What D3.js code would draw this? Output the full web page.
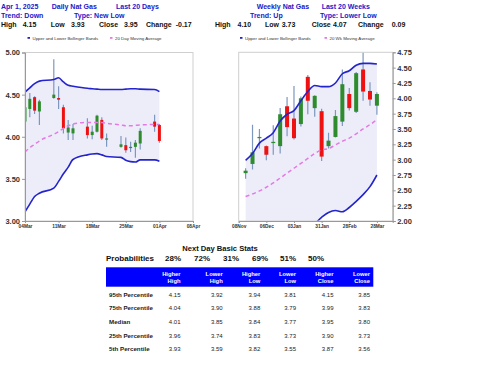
<!DOCTYPE html>
<html><head><meta charset="utf-8">
<script src="https://cdn.jsdelivr.net/npm/d3@7/dist/d3.min.js"></script>
<style>body{margin:0;background:#fff}svg{display:block;font-family:"Liberation Sans",Arial,sans-serif}</style>
</head><body><svg id="c" width="480" height="371"></svg>
<script>
// ---------- DATA ----------
const dailyDates = ["2025-03-04","2025-03-05","2025-03-06","2025-03-07","2025-03-10","2025-03-11","2025-03-12","2025-03-13","2025-03-14","2025-03-17","2025-03-18","2025-03-19","2025-03-20","2025-03-21","2025-03-24","2025-03-25","2025-03-26","2025-03-27","2025-03-28","2025-03-31","2025-04-01"];
const dailyOpen  = [4.18,4.33,4.47,4.30,4.46,4.46,4.35,4.05,4.04,4.12,4.02,4.06,4.20,3.97,3.88,3.90,3.87,3.88,3.92,4.18,4.14];
const dailyHigh  = [4.37,4.52,4.48,4.44,4.92,4.60,4.38,4.20,4.15,4.22,4.13,4.26,4.23,4.04,4.01,3.99,3.94,3.96,4.10,4.26,4.15];
const dailyLow   = [4.14,4.23,4.27,4.14,4.45,4.33,4.04,3.96,3.96,3.98,3.97,4.05,3.96,3.88,3.87,3.81,3.82,3.75,3.85,4.06,3.93];
const dailyClose = [4.35,4.45,4.31,4.42,4.50,4.44,4.10,4.11,4.10,4.02,4.06,4.25,3.98,3.98,3.91,3.84,3.88,3.93,4.07,4.12,3.95];
const dailyUpper = [4.53,4.58,4.63,4.66,4.68,4.70,4.65,4.61,4.60,4.575,4.57,4.565,4.56,4.56,4.56,4.565,4.57,4.57,4.565,4.56,4.535];
const dailyLower = [3.11,3.20,3.29,3.33,3.39,3.47,3.56,3.64,3.73,3.785,3.795,3.80,3.785,3.765,3.755,3.72,3.705,3.70,3.725,3.725,3.71];
const dailyMA    = [3.82,3.87,3.91,3.95,4.03,4.06,4.10,4.13,4.15,4.17,4.17,4.17,4.17,4.16,4.14,4.13,4.13,4.135,4.14,4.145,4.145];
const dailyTicks = ["2025-03-04","2025-03-11","2025-03-18","2025-03-25","2025-04-01","2025-04-08"];
const dailyYTicks = [3.00,3.50,4.00,4.50,5.00];

const weeklyDates = ["2024-11-15","2024-11-22","2024-11-29","2024-12-06","2024-12-13","2024-12-20","2024-12-27","2025-01-03","2025-01-10","2025-01-17","2025-01-24","2025-01-31","2025-02-07","2025-02-14","2025-02-21","2025-02-28","2025-03-07","2025-03-14","2025-03-21","2025-03-28"];
const weeklyOpen  = [2.78,2.93,3.35,3.22,3.27,3.22,3.87,3.67,3.58,4.35,3.84,3.79,3.22,3.37,3.62,4.07,3.78,4.47,4.12,3.88];
const weeklyHigh  = [2.86,3.57,3.50,3.23,3.56,3.84,4.02,4.20,4.03,4.38,4.05,3.83,3.44,3.81,4.47,4.17,4.43,4.92,4.26,4.10];
const weeklyLow   = [2.69,2.84,3.18,2.99,3.08,3.10,3.38,3.33,3.54,3.74,3.70,2.98,3.18,3.36,3.55,3.80,3.76,3.96,3.88,3.73];
const weeklyClose = [2.82,3.12,3.37,3.08,3.29,3.74,3.53,3.35,4.00,3.96,4.04,3.05,3.31,3.71,4.23,3.84,4.41,4.11,3.98,4.07];
const weeklyUpper = [2.99,3.10,3.27,3.35,3.44,3.63,3.74,3.80,3.96,4.11,4.21,4.19,4.19,4.25,4.40,4.45,4.54,4.57,4.57,4.56];
const weeklyLower = [1.80,1.78,1.71,1.75,1.80,1.77,1.82,1.88,1.90,1.92,1.96,2.06,2.14,2.17,2.15,2.22,2.32,2.43,2.56,2.75];
const weeklyMA    = [2.40,2.44,2.49,2.55,2.62,2.70,2.78,2.86,2.94,3.02,3.10,3.16,3.18,3.24,3.30,3.35,3.42,3.50,3.57,3.65];
const weeklyTicks = ["2024-11-08","2024-12-06","2025-01-03","2025-01-31","2025-02-28","2025-03-28"];
const weeklyYTicks = [2.00,2.25,2.50,2.75,3.00,3.25,3.50,3.75,4.00,4.25,4.50,4.75];

const probLabels = ["28%","72%","31%","69%","51%","50%"];
const colHeads = [["Higher","High"],["Lower","High"],["Higher","Low"],["Lower","Low"],["Higher","Close"],["Lower","Close"]];
const rowLabels = ["95th Percentile","75th Percentile","Median","25th Percentile","5th Percentile"];
const tableValues = [
  ["4.15","3.92","3.94","3.81","4.15","3.85"],
  ["4.04","3.90","3.88","3.79","3.99","3.83"],
  ["4.01","3.85","3.84","3.77","3.95","3.80"],
  ["3.96","3.74","3.83","3.73","3.90","3.73"],
  ["3.93","3.59","3.82","3.55","3.87","3.56"]];

// ---------- DRAW ----------
const svg = d3.select("#c");
const parse = d3.utcParse("%Y-%m-%d");
const fmtTick = d3.utcFormat("%d%b");
const BLUE="#2020c8", GREEN="#2e8b2e", RED="#ee1111", WICK="#7d97bf", BAND="#2424cc", MA="#e47ae4", FILL="#ededfa";

function build(dates,o,h,l,c,up,lo,ma){
  return dates.map((d,i)=>({date:parse(d),o:o[i],h:h[i],l:l[i],c:c[i],up:up[i],lo:lo[i],ma:ma[i]}));
}

function chart(cfg){
  const {data,x0,x1,y0,y1,xDom,yDom,ticks,yTicks,axisRight,bodyW,id,legendX,legendText2,legendX2} = cfg;
  const x = d3.scaleUtc().domain(xDom.map(parse)).range([x0,x1]);
  const y = d3.scaleLinear().domain(yDom).range([y1,y0]);
  const g = svg.append("g");
  g.append("clipPath").attr("id",id).append("rect").attr("x",x0).attr("y",y0).attr("width",x1-x0).attr("height",y1-y0);
  const pg = g.append("g").attr("clip-path",`url(#${id})`);
  pg.append("path").datum(data).attr("fill",FILL)
    .attr("d",d3.area().x(d=>x(d.date)).y0(d=>y(d.lo)).y1(d=>y(d.up)));
  g.append("rect").attr("x",x0).attr("y",y0).attr("width",x1-x0).attr("height",y1-y0)
    .attr("fill","none").attr("stroke","#cfcfcf").attr("stroke-width",1);
  const cg = pg.append("g");
  cg.selectAll("line.w").data(data).join("line").attr("class","w")
    .attr("x1",d=>x(d.date)).attr("x2",d=>x(d.date)).attr("y1",d=>y(d.h)).attr("y2",d=>y(d.l))
    .attr("stroke",WICK).attr("stroke-width",1.2);
  cg.selectAll("rect.b").data(data).join("rect").attr("class","b")
    .attr("x",d=>x(d.date)-bodyW/2).attr("width",bodyW)
    .attr("y",d=>y(Math.max(d.o,d.c))).attr("height",d=>Math.max(1.2,Math.abs(y(d.o)-y(d.c))))
    .attr("fill",d=>d.c>=d.o?GREEN:RED);
  const line = k=>d3.line().x(d=>x(d.date)).y(d=>y(d[k])).curve(d3.curveMonotoneX);
  pg.append("path").datum(data).attr("d",line("up")).attr("fill","none").attr("stroke",BAND).attr("stroke-width",1.6);
  pg.append("path").datum(data).attr("d",line("lo")).attr("fill","none").attr("stroke",BAND).attr("stroke-width",1.6);
  pg.append("path").datum(data).attr("d",line("ma")).attr("fill","none").attr("stroke",MA).attr("stroke-width",1.5).attr("stroke-dasharray","4,3");
  const ya = (axisRight?d3.axisRight(y):d3.axisLeft(y)).tickValues(yTicks).tickFormat(d3.format(".2f")).tickSize(3).tickPadding(axisRight?1.5:2);
  const yg = g.append("g").attr("transform",`translate(${axisRight?x1:x0},0)`).call(ya);
  yg.select(".domain").attr("stroke","#999");
  yg.selectAll(".tick line").attr("stroke","#999");
  yg.selectAll("text").attr("font-size",7.5).attr("font-weight","bold").attr("fill","#333");
  const xa = d3.axisBottom(x).tickValues(ticks.map(parse)).tickFormat(fmtTick).tickSize(2).tickPadding(2);
  const xg = g.append("g").attr("transform",`translate(0,${y1})`).call(xa);
  xg.select(".domain").attr("stroke","#999");
  xg.selectAll(".tick line").attr("stroke","#999");
  xg.selectAll("text").attr("font-size",4.8).attr("font-weight","bold").attr("fill","#333");
  const lg = g.append("g").attr("font-size",4.4).attr("fill","#333");
  lg.append("rect").attr("x",legendX).attr("y",37).attr("width",2.5).attr("height",1.8).attr("fill",BAND);
  lg.append("text").attr("x",legendX+5).attr("y",39.5).text("Upper and Lower Bollinger Bands");
  lg.append("rect").attr("x",legendX2).attr("y",37).attr("width",2.5).attr("height",1.8).attr("fill",MA);
  lg.append("text").attr("x",legendX2+5).attr("y",39.5).text(legendText2);
}

chart({data:build(dailyDates,dailyOpen,dailyHigh,dailyLow,dailyClose,dailyUpper,dailyLower,dailyMA),
  x0:25,x1:193,y0:52.5,y1:221,xDom:["2025-03-04","2025-04-08"],yDom:[3,5],ticks:dailyTicks,yTicks:dailyYTicks,
  axisRight:false,bodyW:3,id:"clipL",legendX:27.5,legendText2:"20 Day Moving Average",legendX2:110});
chart({data:build(weeklyDates,weeklyOpen,weeklyHigh,weeklyLow,weeklyClose,weeklyUpper,weeklyLower,weeklyMA),
  x0:238.7,x1:392.7,y0:52.3,y1:221,xDom:["2024-11-08","2025-04-13"],yDom:[2,4.75],ticks:weeklyTicks,yTicks:weeklyYTicks,
  axisRight:true,bodyW:4,id:"clipR",legendX:240,legendText2:"20 Wk Moving Average",legendX2:324.5});

const hdr = svg.append("g").attr("font-size",7).attr("font-weight","bold");
const blueTexts = [["Apr 1, 2025",1,9],["Daily Nat Gas",51.7,9],["Last 20 Days",116,9],["Trend: Down",1,17.5],["Type: New Low",74,17.5],
  ["Weekly Nat Gas",256.7,9],["Last 20 Weeks",321.7,9],["Trend: Up",250,17.5],["Type: Lower Low",320,17.5]];
hdr.selectAll("text.b").data(blueTexts).join("text").attr("class","b").attr("x",d=>d[1]).attr("y",d=>d[2]).attr("fill",BLUE).text(d=>d[0]);
const blackTexts = [["High",1],["4.15",22.7],["Low",50.7],["3.93",71],["Close",99],["3.95",124],["Change",146],["-0.17",175.7],
  ["High",215],["4.10",237.5],["Low",265],["3.73",281.7],["Close",311.7],["4.07",333],["Change",358],["0.09",391.7]];
hdr.selectAll("text.k").data(blackTexts).join("text").attr("class","k").attr("x",d=>d[1]).attr("y",26.5).attr("fill","#111").text(d=>d[0]);

const tg = svg.append("g").attr("font-weight","bold");
tg.append("text").attr("x",220).attr("y",250.5).attr("text-anchor","middle").attr("font-size",7.6).attr("fill","#111").text("Next Day Basic Stats");
tg.append("text").attr("x",106).attr("y",260.5).attr("font-size",8).attr("fill","#111").text("Probabilities");
const probX = [165,194,223,252,280,308];
tg.selectAll("text.p").data(probLabels).join("text").attr("class","p").attr("x",(d,i)=>probX[i]).attr("y",260.5).attr("font-size",8).attr("fill","#111").text(d=>d);
tg.append("rect").attr("x",106).attr("y",267.3).attr("width",267.3).attr("height",19.4).attr("fill","#0000ff");
const colX = [180.5,222.7,260.3,296,333.5,370];
colHeads.forEach((h,i)=>{
  tg.append("text").attr("x",colX[i]).attr("y",276.3).attr("text-anchor","end").attr("font-size",5.8).attr("fill","#fff").text(h[0]);
  tg.append("text").attr("x",colX[i]).attr("y",283.3).attr("text-anchor","end").attr("font-size",5.8).attr("fill","#fff").text(h[1]);
});
const rowY = [296.6,310.2,323.8,337.5,351.1];
rowLabels.forEach((r,j)=>{
  tg.append("text").attr("x",109).attr("y",rowY[j]).attr("font-size",6.2).attr("fill","#222").text(r);
  tableValues[j].forEach((v,i)=>{
    tg.append("text").attr("x",colX[i]).attr("y",rowY[j]).attr("text-anchor","end").attr("font-size",6).attr("font-weight","normal").attr("fill","#222").text(v);
  });
});
</script></body></html>
